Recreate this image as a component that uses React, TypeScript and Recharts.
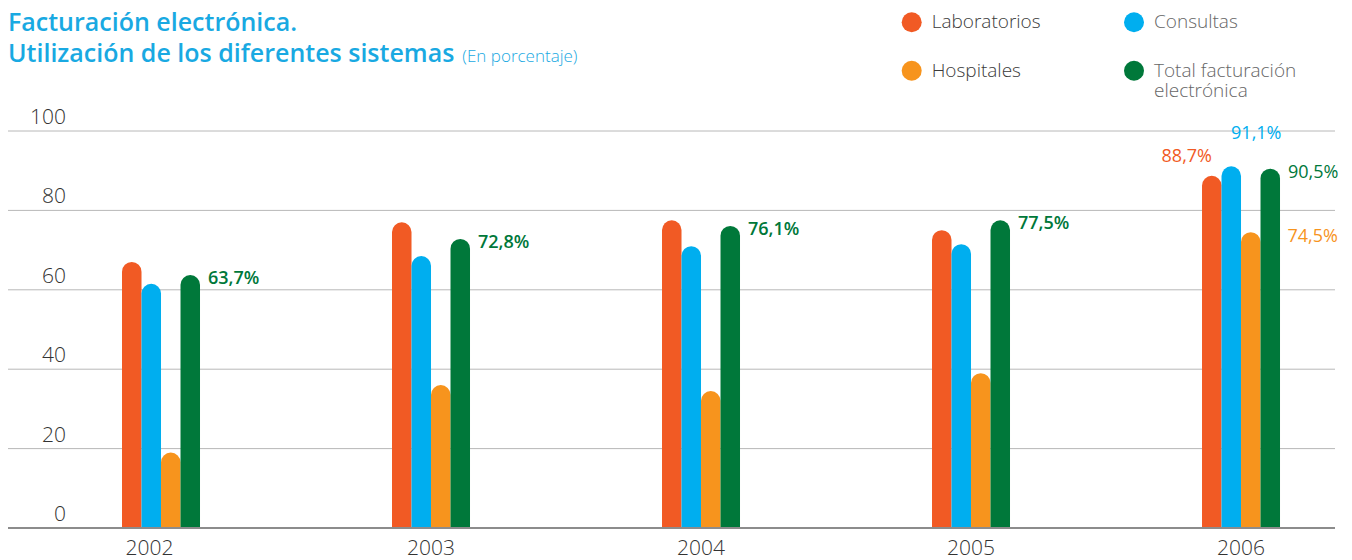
import React from "react";
import { BarChart, Bar, XAxis, YAxis, CartesianGrid, LabelList } from "recharts";

// values (percent)
const years = [2002, 2003, 2004, 2005, 2006];
const laboratorios = [67, 77, 77.5, 75, 88.7];
const consultas = [61.5, 68.5, 71, 71.5, 91.1];
const hospitales = [19, 36, 34.5, 39, 74.5];
const total = [63.7, 72.8, 76.1, 77.5, 90.5];

const labLabels = [null, null, null, null, "88,7%"];
const conLabels = [null, null, null, null, "91,1%"];
const hosLabels = [null, null, null, null, "74,5%"];
const totLabels = ["63,7%", "72,8%", "76,1%", "77,5%", "90,5%"];

const yTicks = [0, 20, 40, 60, 80, 100];

const data = years.map((year, i) => ({
  year,
  laboratorios: laboratorios[i],
  consultas: consultas[i],
  hospitales: hospitales[i],
  total: total[i],
  labLabel: labLabels[i],
  conLabel: conLabels[i],
  hosLabel: hosLabels[i],
  totLabel: totLabels[i],
}));

const ORANGE = "#F15A24";
const BLUE = "#00AEEF";
const YELLOW = "#F7941D";
const GREEN = "#00783A";
const TITLE = "#19A9E2";
const FONT = "'Open Sans', sans-serif";

// where each series puts its value label, relative to the bar
const labelStyle: any = {
  lab: { anchor: "end", dx: (w: number) => 10, dy: -14, color: ORANGE },
  con: { anchor: "middle", dx: (w: number) => w / 2 + 25, dy: -27, color: BLUE },
  hos: { anchor: "start", dx: (w: number) => w + 27, dy: 10, color: YELLOW },
  tot: { anchor: "start", dx: (w: number) => w + 8, dy: 9, color: GREEN },
};

const makeLabel = (key: string) => (props: any) => {
  const { x, y, width, value, index } = props;
  if (value == null) return null;
  const s = labelStyle[key];
  const bold = key === "tot" && index < 4;
  return (
    <text
      x={Number(x) + s.dx(Number(width))}
      y={Number(y) + s.dy}
      textAnchor={s.anchor}
      fill={s.color}
      fontFamily={FONT}
      fontSize={18}
      fontWeight={bold ? 600 : 400}
    >
      {value}
    </text>
  );
};

const xTickShift = [-11.5, 0, 0, 0, 0];

const XTick = (props: any) => {
  const { x, y, payload, index } = props;
  return (
    <text
      x={x + (xTickShift[index] || 0)}
      y={y + 27}
      textAnchor="middle"
      fill="#333"
      fontFamily={FONT}
      fontSize={21}
      fontWeight={300}
    >
      {payload.value}
    </text>
  );
};

const YTick = (props: any) => {
  const { y, payload } = props;
  return (
    <text x={58} y={y - 7} textAnchor="end" fill="#333" fontFamily={FONT} fontSize={21} fontWeight={300}>
      {payload.value}
    </text>
  );
};

const legend = [
  { name: ["Laboratorios"], color: ORANGE, text: "#3a3a3a", x: 903.7, y: 14.3 },
  { name: ["Consultas"], color: BLUE, text: "#666", x: 1126, y: 14.3 },
  { name: ["Hospitales"], color: YELLOW, text: "#3a3a3a", x: 903.7, y: 62.7 },
  { name: ["Total facturación", "electrónica"], color: GREEN, text: "#666", x: 1126, y: 62.7 },
];

export default function App() {
  return (
    <div style={{ position: "relative", width: 1344, height: 552 }}>
      <BarChart
        width={1344}
        height={552}
        data={data}
        margin={{ top: 123, right: 17, left: 0, bottom: 2 }}
        barSize={19.5}
        barGap={0}
      >
        <CartesianGrid horizontal vertical={false} stroke="#b8b8b8" />
        <XAxis
          dataKey="year"
          type="number"
          domain={[2001.4333, 2006.3481]}
          ticks={years}
          height={30}
          tickLine={false}
          tickSize={0}
          tickMargin={0}
          axisLine={{ stroke: "#8c8c8c", strokeWidth: 2 }}
          tick={<XTick />}
          interval={0}
        />
        <YAxis
          type="number"
          domain={[0, 100]}
          ticks={yTicks}
          mirror
          axisLine={false}
          tickLine={false}
          tick={<YTick />}
        />
        <Bar dataKey="laboratorios" fill={ORANGE} radius={[10, 10, 0, 0]} isAnimationActive={false}>
          <LabelList dataKey="labLabel" content={makeLabel("lab")} />
        </Bar>
        <Bar dataKey="consultas" fill={BLUE} radius={[10, 10, 0, 0]} isAnimationActive={false}>
          <LabelList dataKey="conLabel" content={makeLabel("con")} />
        </Bar>
        <Bar dataKey="hospitales" fill={YELLOW} radius={[10, 10, 0, 0]} isAnimationActive={false}>
          <LabelList dataKey="hosLabel" content={makeLabel("hos")} />
        </Bar>
        <Bar dataKey="total" fill={GREEN} radius={[10, 10, 0, 0]} isAnimationActive={false}>
          <LabelList dataKey="totLabel" content={makeLabel("tot")} />
        </Bar>
      </BarChart>

      <svg
        width={1344}
        height={110}
        style={{ position: "absolute", left: 0, top: 0, pointerEvents: "none", overflow: "visible" }}
      >
        <text x={0} y={23} fill={TITLE} fontFamily={FONT} fontSize={25} fontWeight={600}>
          Facturación electrónica.
        </text>
        <text x={0} y={54} fill={TITLE} fontFamily={FONT} fontSize={25} fontWeight={600}>
          Utilización de los diferentes sistemas
          <tspan dx={8} fontSize={17} fontWeight={300}>
            (En porcentaje)
          </tspan>
        </text>
        {legend.map((l) => (
          <g key={l.name[0]}>
            <circle cx={l.x} cy={l.y} r={10} fill={l.color} />
            {l.name.map((line, i) => (
              <text
                key={line}
                x={l.x + 20}
                y={l.y + 6 + i * 20}
                fill={l.text}
                fontFamily={FONT}
                fontSize={19}
                fontWeight={300}
              >
                {line}
              </text>
            ))}
          </g>
        ))}
      </svg>
    </div>
  );
}
